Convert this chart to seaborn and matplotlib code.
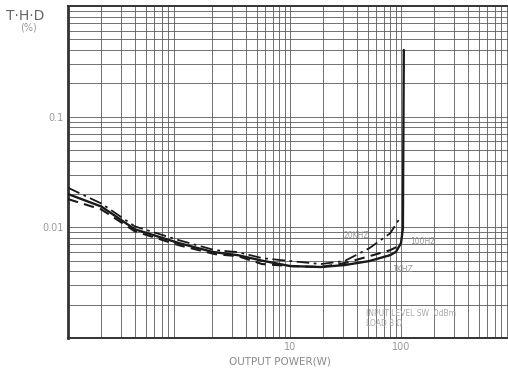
import numpy as np
import pandas as pd
import seaborn as sns
import matplotlib.pyplot as plt

# output power (W) and THD (%)
p_1k = [0.1, 0.2, 0.4, 1, 2, 3.4, 5.6, 10, 19, 31, 52, 80, 90, 100, 104, 106]
thd_1k = [0.0200, 0.0154, 0.0096, 0.0072, 0.0060, 0.0056, 0.0050, 0.00447,
          0.00438, 0.00456, 0.00496, 0.00561, 0.0060, 0.0072, 0.0098, 0.40]

p_20k = [0.1, 0.2, 0.4, 1, 2.1, 3.4, 5.6, 10, 19, 31, 52, 80, 100]
thd_20k = [0.0228, 0.0164, 0.0102, 0.00765, 0.00622, 0.00597, 0.00527,
           0.00496, 0.00466, 0.00496, 0.00649, 0.00884, 0.0126]

p_100 = [0.1, 0.2, 0.4, 1, 2.1, 3.4, 5.6, 10, 19, 31, 52, 80, 98]
thd_100 = [0.0180, 0.0145, 0.00921, 0.00689, 0.00573, 0.00549, 0.00466,
           0.00447, 0.00438, 0.00475, 0.00549, 0.00622, 0.00689]

x_ticks = [10, 100]
x_labels = ['10', '100']
y_ticks = [0.01, 0.1]
y_labels = ['0.01', '0.1']

sns.set_theme(style='white')
plt.rcParams['font.family'] = ['DejaVu Sans']

fig = plt.figure(figsize=(5.08, 3.72), dpi=100)
# right edge of the chart (1000 W) runs just past the picture edge
ax = fig.add_axes([68 / 508, 1 - 338 / 372, 444 / 508, 332 / 372])

df_1k = pd.DataFrame({'P': p_1k, 'THD': thd_1k})
df_20k = pd.DataFrame({'P': p_20k, 'THD': thd_20k})
df_100 = pd.DataFrame({'P': p_100, 'THD': thd_100})

sns.lineplot(data=df_1k, x='P', y='THD', ax=ax, color='#1a1a1a', lw=1.7,
             sort=False, zorder=3)
sns.lineplot(data=df_100, x='P', y='THD', ax=ax, color='#1a1a1a', lw=1.5,
             linestyle=(0, (5, 3)), sort=False, zorder=3)
sns.lineplot(data=df_20k, x='P', y='THD', ax=ax, color='#1a1a1a', lw=1.3,
             linestyle=(0, (7, 2.5, 1.5, 2.5)), sort=False, zorder=3)

ax.set_xscale('log')
ax.set_yscale('log')
ax.set_xlim(0.1, 1000)
ax.set_ylim(0.001, 1)

ax.set_xticks(x_ticks)
ax.set_xticklabels(x_labels)
ax.set_yticks(y_ticks)
ax.set_yticklabels(y_labels)
ax.xaxis.set_minor_locator(plt.matplotlib.ticker.LogLocator(subs=np.arange(2, 10)))
ax.yaxis.set_minor_locator(plt.matplotlib.ticker.LogLocator(subs=np.arange(2, 10)))
ax.xaxis.set_minor_formatter(plt.NullFormatter())
ax.yaxis.set_minor_formatter(plt.NullFormatter())
ax.tick_params(which='both', length=0, labelsize=7, labelcolor='#9a9a9a', pad=3)

ax.grid(True, which='both', color='#5a5a5a', lw=0.6)
for side in ['left', 'top', 'bottom']:
    ax.spines[side].set_color('#333333')
ax.spines['left'].set_linewidth(2)
ax.spines['top'].set_linewidth(1.4)
ax.spines['bottom'].set_linewidth(1.4)
ax.spines['right'].set_visible(False)

ax.set_xlabel('')
ax.set_ylabel('')

fig.text(6 / 508, 1 - 16 / 372, 'T·H·D', fontsize=10, color='#666666',
         va='center', ha='left')
fig.text(20 / 508, 1 - 28 / 372, '(%)', fontsize=7, color='#9a9a9a',
         va='center', ha='left')
fig.text(280 / 508, 1 - 362 / 372, 'OUTPUT POWER(W)', fontsize=7.5,
         color='#8a8a8a', va='center', ha='center')

# curve labels and conditions
fig.text(343 / 508, 1 - 235 / 372, '20KHZ', fontsize=5.5, color='#9a9a9a',
         va='center', ha='left')
fig.text(410 / 508, 1 - 242 / 372, '100HZ', fontsize=5.5, color='#9a9a9a',
         va='center', ha='left')
fig.text(392 / 508, 1 - 270 / 372, '1KHZ', fontsize=5.5, color='#9a9a9a',
         va='center', ha='left')
fig.text(366 / 508, 1 - 313 / 372, 'INPUT LEVEL SW  0dBm', fontsize=5.5,
         color='#aaaaaa', va='center', ha='left')
fig.text(366 / 508, 1 - 324 / 372, 'LOAD 8 Ω', fontsize=5.5,
         color='#aaaaaa', va='center', ha='left')

fig.savefig('out.png', dpi=100)
